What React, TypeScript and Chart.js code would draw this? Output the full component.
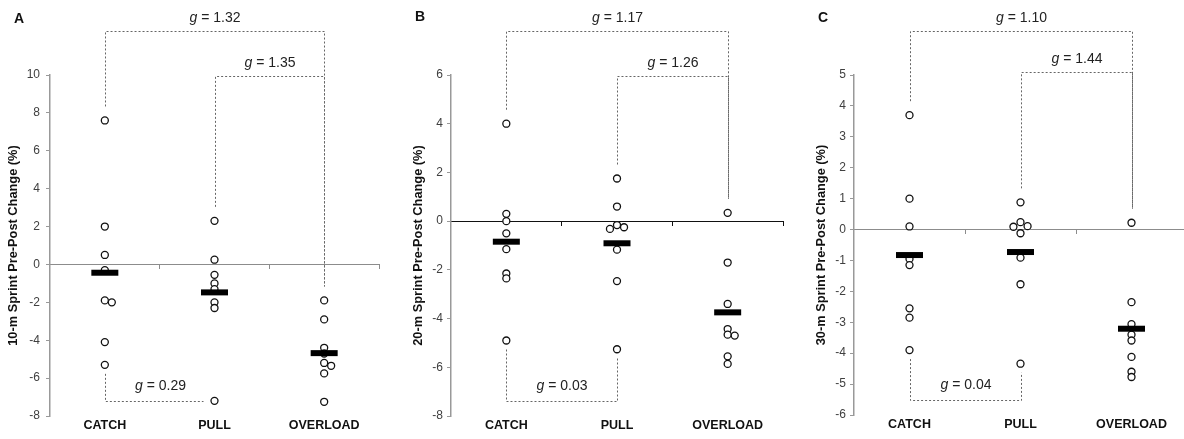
import React, { useEffect, useRef } from 'react';
import { Chart, registerables } from 'chart.js';

Chart.register(...registerables);

// ---------------- DATA ----------------
const categories = ['CATCH', 'PULL', 'OVERLOAD'];

// Panel A – 10-m sprint, pre-post change (%)
const sprint10Catch = [7.6, 2.0, 0.5, -0.3, -1.9, -2.0, -4.1, -5.3];
const sprint10Pull = [2.3, 0.25, -0.55, -1.0, -1.3, -2.0, -2.3, -7.2];
const sprint10Overload = [-1.9, -2.9, -4.4, -4.7, -5.2, -5.35, -5.75, -7.25];

// Panel B – 20-m sprint
const sprint20Catch = [4.0, 0.3, 0.0, -0.5, -1.15, -2.15, -2.35, -4.9];
const sprint20Pull = [1.75, 0.6, -0.16, -0.25, -0.32, -1.17, -2.46, -5.26];
const sprint20Overload = [0.34, -1.7, -3.4, -4.43, -4.66, -4.7, -5.55, -5.86];

// Panel C – 30-m sprint
const sprint30Catch = [3.7, 1.0, 0.1, -0.95, -1.15, -2.55, -2.85, -3.9];
const sprint30Pull = [0.88, 0.24, 0.11, 0.09, -0.12, -0.91, -1.77, -4.34];
const sprint30Overload = [0.22, -2.35, -3.06, -3.4, -3.59, -4.12, -4.6, -4.77];

// Hedges' g: [CATCH vs OVERLOAD, PULL vs OVERLOAD, CATCH vs PULL]
const gSprint10 = ['1.32', '1.35', '0.29'];
const gSprint20 = ['1.17', '1.26', '0.03'];
const gSprint30 = ['1.10', '1.44', '0.04'];

// y-axis ticks: [min, max, step]
const yTicks10 = [-8, 10, 2];
const yTicks20 = [-8, 6, 2];
const yTicks30 = [-6, 5, 1];

// ---------------- LAYOUT / STYLE ----------------
const FONT = 'Arial, "Liberation Sans", Helvetica, sans-serif';

const panels = [
  {
    letter: 'A', title: '10-m Sprint Pre-Post Change (%)',
    groups: [sprint10Catch, sprint10Pull, sprint10Overload], g: gSprint10, yt: yTicks10,
    left: 0, width: 390, axisWidth: 50, padRight: 11, bottomH: 23, titlePad: 6, tickPad: 6,
    zeroColor: '#8c8c8c', innerOffset: 1, letterLeft: 14, letterTop: 10,
  },
  {
    letter: 'B', title: '20-m Sprint Pre-Post Change (%)',
    groups: [sprint20Catch, sprint20Pull, sprint20Overload], g: gSprint20, yt: yTicks20,
    left: 390, width: 394, axisWidth: 61, padRight: 1, bottomH: 23, titlePad: 21, tickPad: 4,
    zeroColor: '#111111', innerOffset: 1, letterLeft: 415, letterTop: 8,
  },
  {
    letter: 'C', title: '30-m Sprint Pre-Post Change (%)',
    groups: [sprint30Catch, sprint30Pull, sprint30Overload], g: gSprint30, yt: yTicks30,
    left: 784, width: 410, axisWidth: 70, padRight: 7, bottomH: 24, titlePad: 30, tickPad: 4,
    zeroColor: '#8c8c8c', innerOffset: -3.5, letterLeft: 818, letterTop: 9,
  },
];

const mean = (a: number[]) => a.reduce((s, v) => s + v, 0) / a.length;

// simple deterministic beeswarm: returns horizontal offsets (in category units)
function swarmOffsets(values: number[], pxPerUnit: number, catPx: number) {
  const minDist = 4.8;
  const step = 7;
  const order = values.map((_, i) => i).sort((a, b) => values[b] - values[a]);
  const placed: { x: number; y: number }[] = [];
  const out = new Array(values.length).fill(0);
  const cands = [0, step, -step, 2 * step, -2 * step, 3 * step, -3 * step];
  for (const i of order) {
    const y = values[i] * pxPerUnit;
    for (const c of cands) {
      if (placed.every((p) => Math.hypot(p.x - c, p.y - y) >= minDist)) {
        out[i] = c / catPx;
        placed.push({ x: c, y });
        break;
      }
    }
  }
  return out;
}

const bracketPlugin = {
  id: 'gBrackets',
  afterDraw(chart: any, _args: any, opts: any) {
    const { ctx, chartArea } = chart;
    const xs = chart.scales.x;
    const ys = chart.scales.y;
    const groups: number[][] = opts.groups;
    const snap = (v: number) => Math.round(v) + 0.5;
    ctx.save();
    for (const b of opts.items) {
      const xa = snap(xs.getPixelForValue(b.from));
      const xb = snap(xs.getPixelForValue(b.to));
      const level = snap(b.top ? chartArea.top + b.offset : chartArea.bottom + b.offset);
      ctx.strokeStyle = opts.lineColor;
      ctx.lineWidth = 1;
      ctx.setLineDash([2, 2]);
      ctx.beginPath();
      if (b.top) {
        const endA = ys.getPixelForValue(Math.max(...groups[b.from])) - opts.topGap;
        const endB = ys.getPixelForValue(Math.max(...groups[b.to])) - opts.topGap;
        ctx.moveTo(xa, endA);
        ctx.lineTo(xa, level);
        ctx.lineTo(xb, level);
        ctx.lineTo(xb, endB);
      } else {
        const endA = ys.getPixelForValue(Math.min(...groups[b.from])) + opts.bottomGap;
        const endB = ys.getPixelForValue(Math.min(...groups[b.to])) + opts.bottomGap;
        if (endA < level - 2) {
          ctx.moveTo(xa, endA);
          ctx.lineTo(xa, level);
        } else {
          ctx.moveTo(xa, level);
        }
        if (endB < level - 2) {
          ctx.lineTo(xb, level);
          ctx.lineTo(xb, endB);
        } else {
          ctx.lineTo(xb - 12, level);
        }
      }
      ctx.stroke();

      ctx.setLineDash([]);
      ctx.fillStyle = '#222';
      ctx.textBaseline = 'middle';
      ctx.textAlign = 'left';
      const gFont = `italic 14px ${FONT}`;
      const rFont = `14px ${FONT}`;
      ctx.font = gFont;
      const w1 = ctx.measureText('g').width;
      const rest = ' = ' + b.g;
      ctx.font = rFont;
      const w2 = ctx.measureText(rest).width;
      const cx = (xa + xb) / 2;
      const x0 = cx - (w1 + w2) / 2;
      const ty = level - b.textOffset;
      ctx.font = gFont;
      ctx.fillText('g', x0, ty);
      ctx.font = rFont;
      ctx.fillText(rest, x0 + w1, ty);
    }
    ctx.restore();
  },
};

function Panel({ p }: { p: (typeof panels)[number] }) {
  const ref = useRef<HTMLCanvasElement | null>(null);

  useEffect(() => {
    if (!ref.current) return;
    const [yMin, yMax, yStep] = p.yt;
    const pxPerUnit = 340 / (yMax - yMin);
    const points: { x: number; y: number }[] = [];
    p.groups.forEach((vals, ci) => {
      const offs = swarmOffsets(vals, pxPerUnit, 110);
      vals.forEach((v, k) => points.push({ x: ci + offs[k], y: v }));
    });
    const means = p.groups.map((vals, ci) => ({ x: ci, y: mean(vals) }));

    const chart = new Chart(ref.current, {
      type: 'scatter',
      data: {
        datasets: [
          {
            label: 'Mean',
            data: means,
            pointStyle: 'line',
            pointRadius: 13.5,
            pointHoverRadius: 13.5,
            pointBorderWidth: 6,
            pointHoverBorderWidth: 6,
            pointBorderColor: '#000',
            pointBackgroundColor: '#000',
            borderColor: '#000',
            backgroundColor: '#000',
            order: 0,
          },
          {
            label: 'Individual',
            data: points,
            pointStyle: 'circle',
            pointRadius: 3.5,
            pointHoverRadius: 3.5,
            pointBorderWidth: 1.3,
            pointBorderColor: '#111',
            pointBackgroundColor: '#fff',
            borderColor: '#111',
            backgroundColor: '#fff',
            order: 1,
          },
        ],
      },
      options: {
        animation: false,
        responsive: false,
        events: [],
        layout: { autoPadding: false, padding: { top: 75, right: p.padRight, left: 0, bottom: 0 } },
        plugins: {
          legend: { display: false },
          tooltip: { enabled: false },
          // @ts-ignore
          gBrackets: {
            groups: p.groups,
            lineColor: '#666',
            topGap: 14,
            bottomGap: 9,
            items: [
              { from: 0, to: 2, top: true, offset: -44, g: p.g[0], textOffset: 13 },
              { from: 1, to: 2, top: true, offset: p.innerOffset, g: p.g[1], textOffset: 13 },
              { from: 0, to: 1, top: false, offset: -15, g: p.g[2], textOffset: 15 },
            ],
          },
        },
        scales: {
          x: {
            type: 'linear',
            position: 'bottom',
            min: -0.5,
            max: 2.5,
            afterBuildTicks: (s: any) => {
              s.ticks = categories.map((_, i) => ({ value: i }));
            },
            ticks: {
              callback: (v: any) => categories[v as number] ?? '',
              font: { family: FONT, size: 12.5, weight: 'bold' },
              color: '#111',
              padding: 2,
              maxRotation: 0,
              autoSkip: false,
            },
            grid: { display: false, drawTicks: false },
            border: { display: false },
            afterFit: (s: any) => {
              s.height = p.bottomH;
            },
          },
          x2: {
            type: 'linear',
            position: { y: 0 },
            min: -0.5,
            max: 2.5,
            afterBuildTicks: (s: any) => {
              s.ticks = [0.5, 1.5, 2.5].map((v) => ({ value: v }));
            },
            ticks: { display: false },
            grid: { drawOnChartArea: false, drawTicks: true, tickLength: 4, color: p.zeroColor },
            border: { display: true, color: p.zeroColor, width: 1 },
          },
          y: {
            type: 'linear',
            position: 'left',
            min: yMin,
            max: yMax,
            ticks: {
              stepSize: yStep,
              font: { family: FONT, size: 12 },
              color: '#404040',
              padding: p.tickPad,
            },
            grid: { drawOnChartArea: false, drawTicks: true, tickLength: 4, color: '#999' },
            border: { display: true, color: '#999', width: 1.5 },
            title: {
              display: true,
              text: p.title,
              font: { family: FONT, size: 12.8, weight: 'bold' },
              color: '#111',
              padding: { top: p.titlePad - 0.5, bottom: 0 },
            },
            afterFit: (s: any) => {
              s.width = p.axisWidth;
            },
          },
        },
      } as any,
      plugins: [bracketPlugin as any],
    });
    return () => chart.destroy();
  }, [p]);

  return (
    <canvas
      ref={ref}
      width={p.width}
      height={439}
      style={{ position: 'absolute', left: p.left, top: 0, width: p.width, height: 439 }}
    />
  );
}

export default function App() {
  return (
    <div
      style={{
        position: 'fixed',
        left: 0,
        top: 0,
        width: 1184,
        height: 439,
        overflow: 'hidden',
        background: '#fff',
      }}
    >
      {panels.map((p) => (
        <Panel key={p.letter} p={p} />
      ))}
      {panels.map((p) => (
        <div
          key={'L' + p.letter}
          style={{
            position: 'absolute',
            left: p.letterLeft,
            top: p.letterTop,
            font: `bold 14px ${FONT}`,
            lineHeight: '16px',
            color: '#111',
          }}
        >
          {p.letter}
        </div>
      ))}
    </div>
  );
}
